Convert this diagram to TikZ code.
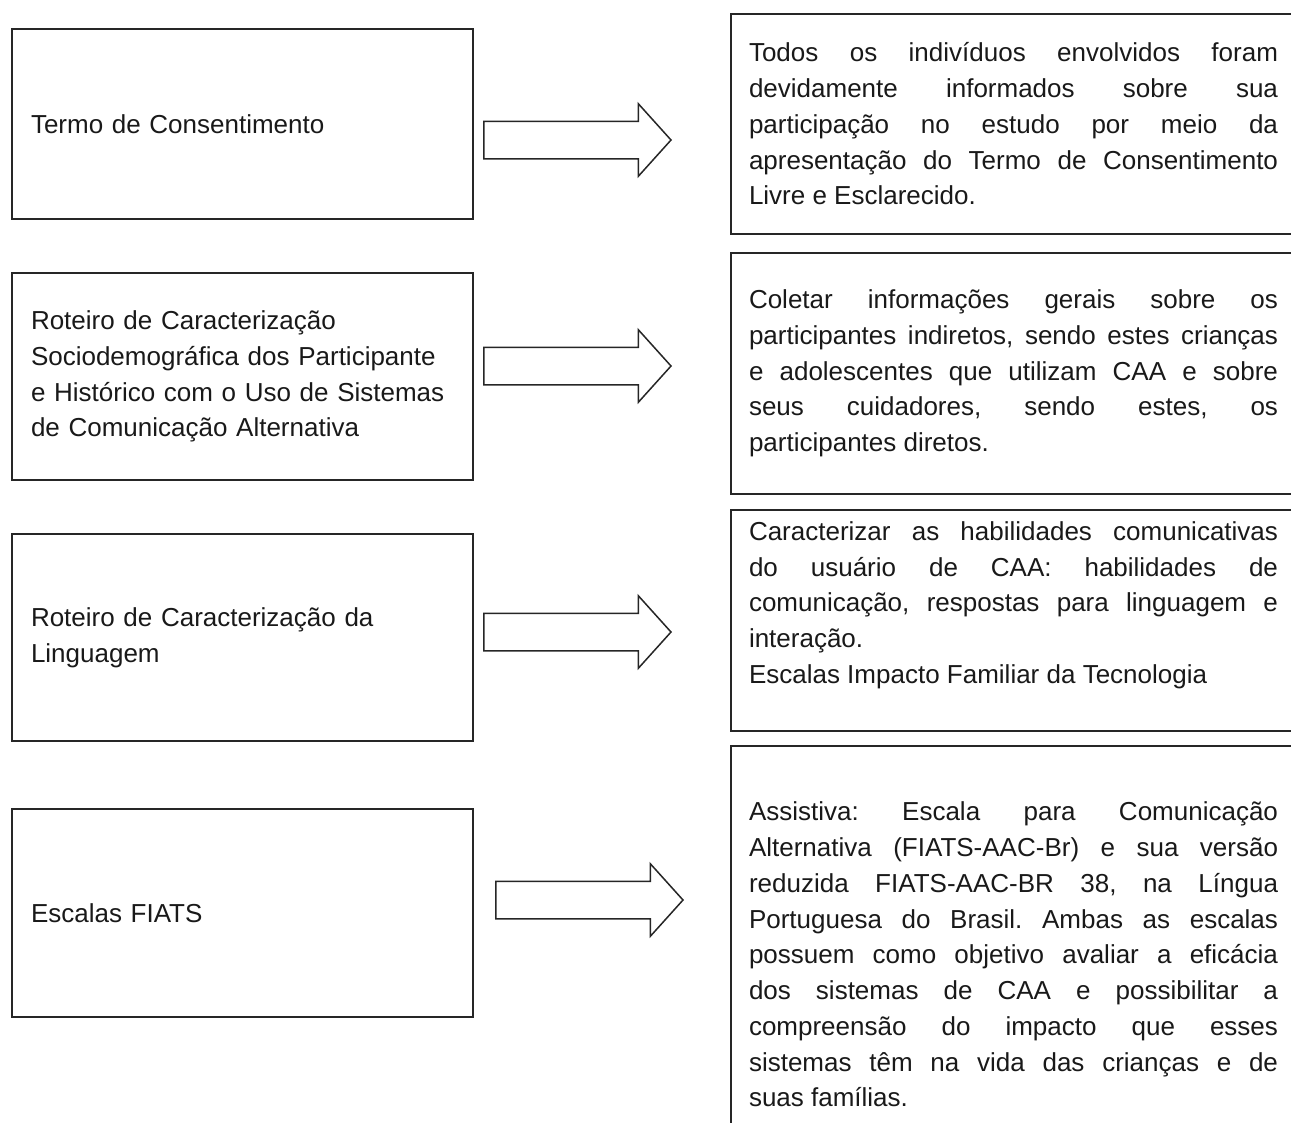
\documentclass[tikz,border=0pt]{standalone}
\usepackage{fontspec}
\setmainfont{Liberation Sans}
\usepackage{tikz}
\usetikzlibrary{positioning, shapes.arrows}
\tolerance=10000
\hyphenpenalty=10000
\frenchspacing

\begin{document}
\begin{tikzpicture}[x=0.4pt, y=-0.4pt, thick]

		% Define styles
		\tikzstyle{instrument} = [rectangle, draw=black!85, line width=0.8pt, text=black!90, anchor=north west, text width=169.2pt, inner xsep=7.6pt, align=left, font=\fontsize{10.4pt}{14.3pt}\selectfont]
		\tikzstyle{goal} = [rectangle, draw=black!85, line width=0.8pt, text=black!90, anchor=north west, text width=211.6pt, inner xsep=7.2pt, align=justify, font=\fontsize{10.4pt}{14.3pt}\selectfont]
		\tikzstyle{bigarrow} = [single arrow, draw=black!85, line width=0.6pt, fill=white, anchor=tip, minimum height=74.8pt, inner xsep=0pt, inner ysep=7.2pt, single arrow head extend=7pt, single arrow tip angle=96]

		\clip (0,0) rectangle (1291,1122);

		% Instruments (left)
		\node[instrument, minimum height=76pt] (lterm) at (11,28) {Termo de Consentimento};
		\node[instrument, minimum height=82.8pt] (lsocio) at (11,272) {Roteiro de Caracterização\\ Sociodemográfica dos Participante\\ e Histórico com o Uso de Sistemas\\ de Comunicação Alternativa};
		\node[instrument, minimum height=82.8pt] (lling) at (11,533) {Roteiro de Caracterização da\\ Linguagem};
		\node[instrument, minimum height=83.2pt] (lfiats) at (11,808) {Escalas FIATS};

		% Descriptions (right)
		\node[goal, minimum height=88pt] (rterm) at (730,13) {Todos os indivíduos envolvidos foram\linebreak devidamente informados sobre sua\linebreak participação no estudo por meio da\linebreak apresentação do Termo de Consentimento\linebreak Livre e Esclarecido.};
		\node[goal, minimum height=96.4pt] (rsocio) at (730,252) {Coletar informações gerais sobre os\linebreak participantes indiretos, sendo estes crianças\linebreak e adolescentes que utilizam CAA e sobre\linebreak seus cuidadores, sendo estes, os\linebreak participantes diretos.};
		\node[goal, minimum height=88.4pt] (rling) at (730,509) {Caracterizar as habilidades comunicativas\linebreak do usuário de CAA: habilidades de\linebreak comunicação, respostas para linguagem e\linebreak interação.\\ Escalas Impacto Familiar da Tecnologia\rule[-14.4pt]{0pt}{0pt}};
		\node[goal, minimum height=166.8pt] (rfiats) at (730,745) {Assistiva: Escala para Comunicação\linebreak Alternativa (FIATS-AAC-Br) e sua versão\linebreak reduzida FIATS-AAC-BR 38, na Língua\linebreak Portuguesa do Brasil. Ambas as escalas\linebreak possuem como objetivo avaliar a eficácia\linebreak dos sistemas de CAA e possibilitar a\linebreak compreensão do impacto que esses\linebreak sistemas têm na vida das crianças e de\linebreak suas famílias.};

		% Arrows
		\node[bigarrow] (aterm) at (672,140) {};
		\node[bigarrow] (asocio) at (672,366) {};
		\node[bigarrow] (aling) at (672,632) {};
		\node[bigarrow] (afiats) at (684,900) {};

\end{tikzpicture}
\end{document}
